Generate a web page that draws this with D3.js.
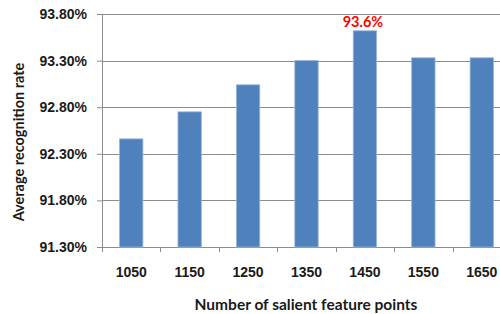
<!DOCTYPE html>
<html>
<head>
<meta charset="utf-8">
<script src="https://cdn.jsdelivr.net/npm/d3@7"></script>
<style>
  body { margin: 0; background: #fff; }
  svg { display: block; font-family: Lato, "Open Sans", sans-serif; }
</style>
</head>
<body>
<svg id="chart" width="500" height="314"></svg>
<script>
const categories = ['1050', '1150', '1250', '1350', '1450', '1550', '1650'];
const rates = [92.46, 92.75, 93.04, 93.30, 93.62, 93.33, 93.33];
const yTicks = [91.3, 91.8, 92.3, 92.8, 93.3, 93.8];
const highlight = { category: '1450', label: '93.6%' };

const svg = d3.select('#chart');
const plotLeft = 102, plotRight = 511, plotTop = 14, plotBottom = 247;

const x = d3.scaleBand()
  .domain(categories)
  .range([plotLeft, plotRight])
  .paddingInner(0.6)
  .paddingOuter(0.3);

const y = d3.scaleLinear()
  .domain([91.3, 93.8])
  .range([plotBottom, plotTop]);

// gridlines
svg.append('g')
  .selectAll('line')
  .data(yTicks)
  .enter()
  .append('line')
  .attr('x1', plotLeft).attr('x2', plotRight)
  .attr('y1', d => Math.round(y(d)) + 0.5).attr('y2', d => Math.round(y(d)) + 0.5)
  .attr('stroke', '#8c8c8c')
  .attr('stroke-width', 1);

// bars
svg.append('g')
  .selectAll('rect')
  .data(categories)
  .enter()
  .append('rect')
  .attr('x', d => x(d))
  .attr('width', x.bandwidth())
  .attr('y', (d, i) => y(rates[i]))
  .attr('height', (d, i) => plotBottom - y(rates[i]))
  .attr('fill', '#4f81bd')
  .attr('stroke', '#9bb5d8')
  .attr('stroke-width', 0.8);

// y axis
const yAxis = svg.append('g')
  .attr('transform', `translate(${plotLeft},0)`)
  .call(d3.axisLeft(y).tickValues(yTicks).tickSize(5).tickPadding(10)
    .tickFormat(d => d.toFixed(2) + '%'));
yAxis.select('.domain').attr('stroke', '#8c8c8c');
yAxis.selectAll('.tick line').attr('stroke', '#8c8c8c');
yAxis.selectAll('text')
  .attr('font-size', 14)
  .attr('font-weight', 'bold')
  .attr('fill', '#1a1a1a');

// x axis
const xAxis = svg.append('g')
  .attr('transform', `translate(0,${plotBottom})`)
  .call(d3.axisBottom(x).tickSize(0).tickPadding(0));
xAxis.select('.domain').remove();
xAxis.selectAll('text')
  .attr('y', 30)
  .attr('dy', 0)
  .attr('font-size', 14)
  .attr('font-weight', 'bold')
  .attr('fill', '#1a1a1a');

// x ticks between categories
const step = x.step();
svg.append('g')
  .selectAll('line')
  .data(categories)
  .enter()
  .append('line')
  .attr('x1', d => Math.round(x(d) - step * 0.3) + 0.5)
  .attr('x2', d => Math.round(x(d) - step * 0.3) + 0.5)
  .attr('y1', plotBottom).attr('y2', plotBottom + 5)
  .attr('stroke', '#8c8c8c');

// highlight label
svg.append('text')
  .attr('x', x(highlight.category) + x.bandwidth() / 2 - 2)
  .attr('y', 27)
  .attr('text-anchor', 'middle')
  .attr('font-size', 14.5)
  .attr('font-weight', 'bold')
  .attr('fill', '#ff0000')
  .text(highlight.label);

// axis titles
svg.append('text')
  .attr('x', 306)
  .attr('y', 310)
  .attr('text-anchor', 'middle')
  .attr('font-size', 15.5)
  .attr('font-weight', 'bold')
  .attr('fill', '#1a1a1a')
  .text('Number of salient feature points');

svg.append('text')
  .attr('transform', 'translate(24,142) rotate(-90)')
  .attr('text-anchor', 'middle')
  .attr('font-size', 14.5)
  .attr('font-weight', 'bold')
  .attr('fill', '#1a1a1a')
  .text('Average recognition rate');
</script>
</body>
</html>
